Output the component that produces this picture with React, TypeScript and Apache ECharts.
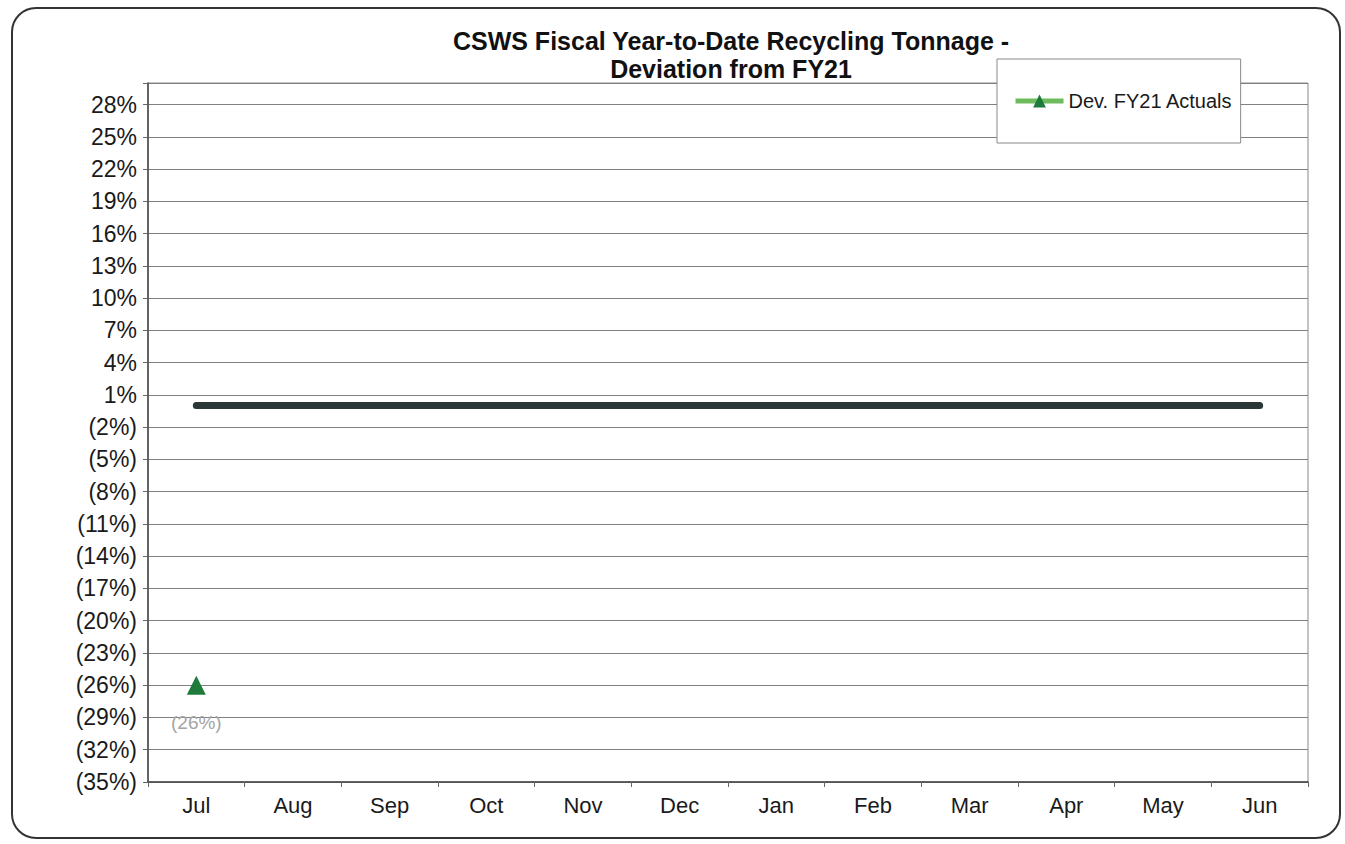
import React, { useEffect, useRef } from "react";
import * as echarts from "echarts";

const months = ["Jul", "Aug", "Sep", "Oct", "Nov", "Dec", "Jan", "Feb", "Mar", "Apr", "May", "Jun"];
const devFY21Actuals: (number | null)[] = [-0.26, null, null, null, null, null, null, null, null, null, null, null];
const baseline = [0, 0, 0, 0, 0, 0, 0, 0, 0, 0, 0, 0];
const titleLines = ["CSWS Fiscal Year-to-Date Recycling Tonnage -", "Deviation from FY21"];
const legendName = "Dev. FY21 Actuals";
const yMin = -0.35;
const yMax = 0.3;
const yStep = 0.03;

const FONT = "'Liberation Sans', Arial, sans-serif";

function pct(v: number): string {
  const p = Math.round(v * 100);
  if (p < 0) return `(${Math.abs(p)}%)`;
  return `${p}%`;
}

export default function App() {
  const ref = useRef<HTMLDivElement>(null);
  useEffect(() => {
    if (!ref.current) return;
    const chart = echarts.init(ref.current, undefined, { renderer: "svg" });
    chart.setOption({
      animation: false,
      backgroundColor: "#ffffff",
      textStyle: { fontFamily: FONT },
      graphic: [
        {
          type: "rect",
          shape: { x: 12, y: 8, width: 1328, height: 830, r: 24 },
          style: { fill: "none", stroke: "#333", lineWidth: 2 },
          silent: true,
          z: -10,
        },
      ],
      title: {
        text: titleLines.join("\n"),
        left: 726,
        textAlign: "center",
        top: 22,
        textStyle: { fontFamily: FONT, fontSize: 25, fontWeight: "bold", color: "#111", lineHeight: 28 },
      },
      legend: {
        data: [legendName],
        left: 997,
        top: 59,
        orient: "vertical",
        backgroundColor: "#ffffff",
        borderColor: "#8a8a8a",
        borderWidth: 1,
        padding: [32, 8, 32, 16],
        itemWidth: 48,
        itemHeight: 16,
        lineStyle: { color: "#6cbb5c", width: 5 },
        itemStyle: { color: "#1e7b3c" },
        textStyle: { fontFamily: FONT, fontSize: 20, color: "#1a1a1a" },
        z: 10,
      },
      grid: { left: 148, right: 37, top: 83, bottom: 62, show: true, borderColor: "#8a8a8a", borderWidth: 1 },
      xAxis: {
        type: "category",
        data: months,
        boundaryGap: true,
        axisLine: { onZero: false, lineStyle: { color: "#444", width: 1.5 } },
        axisTick: { show: true, length: 5, lineStyle: { color: "#666" } },
        axisLabel: { fontFamily: FONT, fontSize: 22, color: "#1a1a1a", margin: 12 },
      },
      yAxis: {
        type: "value",
        min: yMin,
        max: yMax,
        interval: yStep,
        axisLine: { show: true, onZero: false, lineStyle: { color: "#444", width: 1.5 } },
        axisTick: { show: true, length: 5, lineStyle: { color: "#666" } },
        splitLine: { show: true, lineStyle: { color: "#808080", width: 1 } },
        axisLabel: {
          fontFamily: FONT,
          fontSize: 23,
          color: "#1a1a1a",
          margin: 11,
          formatter: (v: number) => (v > 0.285 ? "" : pct(v)),
        },
      },
      series: [
        {
          name: "Baseline",
          type: "line",
          data: baseline,
          symbol: "none",
          lineStyle: { color: "#2b3636", width: 7, cap: "round" },
          itemStyle: { color: "#2b3636" },
          z: 3,
          silent: true,
        },
        {
          name: legendName,
          type: "line",
          data: devFY21Actuals,
          symbol: "triangle",
          symbolSize: 19,
          itemStyle: { color: "#1e7b3c" },
          lineStyle: { color: "#6cbb5c", width: 5 },
          label: {
            show: true,
            position: "bottom",
            distance: 18,
            formatter: (p: any) => pct(p.value),
            fontFamily: FONT,
            fontSize: 19,
            color: "#a5a5a5",
          },
          z: 4,
        },
      ],
    });
    return () => chart.dispose();
  }, []);
  return <div ref={ref} style={{ position: "fixed", left: 0, top: 0, width: 1345, height: 844 }} />;
}
